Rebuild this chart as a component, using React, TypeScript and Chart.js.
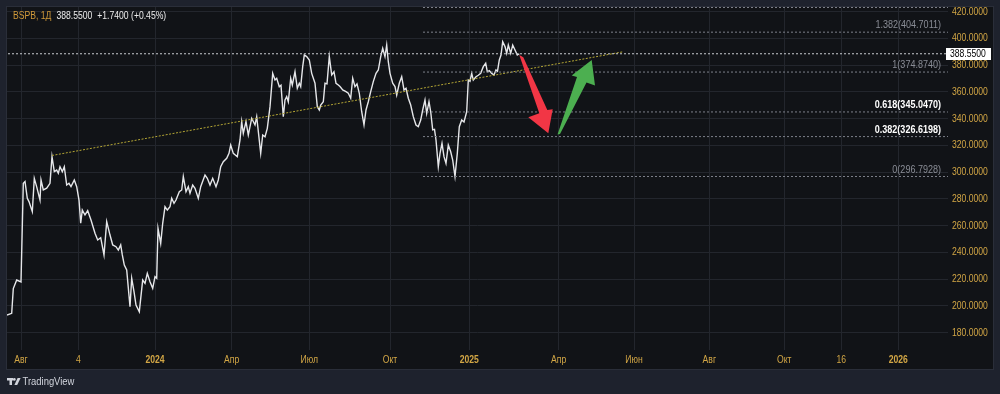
import React, { useEffect, useRef } from "react";
import { Chart, registerables } from "chart.js";

Chart.register(...registerables);

// ---- data (x = bar index, y = price) ----
const barIdx = [
  0, 4.7, 6.3, 9.7, 14, 16.3, 18, 20.3, 22, 25.3, 27.3, 29.7, 33, 34, 36.3, 39.7, 43, 45, 47.3, 49.7,
  51.3, 53, 55.3, 57.3, 59.7, 62, 64, 67.3, 69.7, 72, 73.7, 75.3, 78, 80.7, 84, 88, 90.7, 93.7, 97, 99.7,
  103, 105.7, 109, 111.3, 113.7, 115.3, 117.3, 119.7, 123, 124.7, 127, 129, 132.3, 135.7, 138, 140.3, 143, 145.7, 148, 149.7,
  151, 153.7, 155.7, 158, 160.3, 163, 164.7, 167, 169, 172.3, 174.7, 176.3, 179, 181.3, 183, 185.7, 188, 191.3, 193.7, 198,
  200.3, 203, 205.7, 209, 211.3, 213.7, 216.3, 219.7, 222, 223.7, 226.3, 230.3, 233, 234.7, 236.3, 239, 241.3, 244.7, 248, 249.7,
  253.7, 255.7, 258, 260.3, 263, 265.7, 268, 269.7, 272.3, 274, 276.3, 278, 279.7, 281.3, 283.7, 285.3, 288, 290.3, 292.3, 293.7,
  295.7, 297.3, 299.7, 302.3, 304.7, 308, 310.3, 312.3, 313.7, 316.3, 318, 320, 322.3, 324.7, 327, 329, 331.3, 333, 335.7, 339,
  341.3, 343.7, 345.7, 348, 350, 352.3, 354.7, 357, 359, 361.3, 363.7, 366.3, 369, 371.3, 373.7, 375.7, 378, 379.7, 381.3, 383,
  385.7, 388, 389.7, 392.3, 394.7, 397, 399, 401.3, 403.7, 406.3, 409, 411.3, 413.7, 415.7, 418, 419.7, 422, 423.7, 425.7, 427.5,
  429, 431.3, 433, 435, 437, 439, 441.3, 443.7, 445.7, 448, 450.3, 452.3, 454.7, 457, 459.7, 461.3, 463, 464.7, 466.3, 469,
  471.3, 473.7, 476.3, 478.7, 480.3, 482.3, 484.7, 487, 489, 490.5, 492.3, 494, 495.7, 498, 499.7, 501.3, 503.7, 505.7, 508, 510.3,
  512.3,
];
const close = [
  193.2, 194.5, 213.0, 219.4, 218.0, 291.7, 293.0, 280.5, 278.0, 270.5, 295.4, 289.0, 279.2, 294.2, 286.7, 288.0, 291.7, 311.6, 300.4, 301.6,
  299.2, 304.1, 300.4, 304.1, 290.4, 291.7, 289.2, 294.2, 289.2, 279.2, 261.8, 271.7, 268.0, 271.2, 264.3, 254.3, 249.3, 251.0, 238.1, 263.0,
  253.0, 245.6, 244.3, 241.8, 245.6, 238.1, 230.6, 226.9, 199.4, 220.7, 210.7, 200.7, 195.7, 219.4, 216.9, 224.4, 218.1, 213.2, 221.9, 220.7,
  258.0, 246.8, 261.8, 274.2, 271.7, 274.2, 280.5, 276.7, 279.2, 285.4, 286.7, 296.7, 285.4, 289.2, 284.2, 290.4, 288.0, 280.5, 289.2, 297.9,
  295.4, 290.4, 295.4, 289.2, 294.2, 304.1, 307.9, 310.4, 314.1, 320.3, 314.1, 311.6, 324.1, 337.8, 329.1, 337.8, 327.8, 340.3, 335.3, 341.5,
  314.1, 327.8, 326.5, 332.8, 349.0, 373.9, 368.9, 370.2, 363.9, 365.0, 341.5, 354.0, 356.5, 352.7, 370.2, 365.2, 375.1, 362.7, 366.5, 364.0,
  378.9, 387.6, 386.4, 383.9, 373.9, 366.5, 349.0, 346.5, 350.2, 352.7, 366.5, 366.0, 386.4, 372.7, 375.1, 366.5, 365.2, 364.0, 361.5, 360.2,
  359.0, 355.3, 370.2, 364.0, 366.0, 359.0, 345.2, 335.3, 346.5, 352.7, 360.2, 367.7, 373.9, 376.4, 386.4, 392.6, 386.4, 395.1, 382.6, 373.9,
  366.5, 364.0, 357.7, 366.5, 371.4, 361.5, 362.7, 355.3, 350.2, 341.5, 335.3, 334.0, 339.0, 346.5, 354.0, 344.0, 352.7, 345.2, 331.6, 332.0,
  324.1, 304.1, 314.1, 321.6, 311.6, 306.6, 320.3, 315.3, 309.1, 296.7, 314.1, 334.0, 339.0, 337.5, 345.2, 368.9, 368.0, 373.9, 368.9, 371.4,
  372.5, 373.9, 378.9, 381.4, 375.1, 376.0, 373.9, 372.7, 376.4, 375.5, 383.9, 387.6, 397.6, 393.9, 388.9, 395.1, 388.9, 395.1, 391.4, 387.6,
  388.55,
];

const symbol = "BSPB, 1Д";
const lastPrice = 388.55;
const change = "+1.7400 (+0.45%)";

const trendBars = [45, 616];
const trendPrices = [312.5, 390.0];

const fibStartBar = 416;
const fibPrices = [423.13, 404.7011, 374.874, 345.047, 326.6198, 296.7928];
const fibLabels = ["", "1.382(404.7011)", "1(374.8740)", "0.618(345.0470)", "0.382(326.6198)", "0(296.7928)"];
const fibEmphasis = [false, false, false, true, true, false];

const redArrowBars = [512.3, 516.3, 540.3, 545.7, 541.3, 521.3, 532.3];
const redArrowPrices = [387.6, 385.9, 346.5, 347.0, 329.1, 341.0, 344.0];
const greenArrowBars = [550.5, 570.0, 564.7, 584.7, 588.0, 579.5, 553.0];
const greenArrowPrices = [328.2, 371.2, 372.3, 383.9, 364.8, 367.1, 328.6];

const xTickBars = [14, 71.3, 148, 224.7, 302.3, 383, 462.3, 551.7, 627, 702.3, 777.3, 834.3, 891.3];
const xTickLabels = ["Авг", "4", "2024", "Апр", "Июл", "Окт", "2025", "Апр", "Июн", "Авг", "Окт", "16", "2026"];
const yTicks = [180, 200, 220, 240, 260, 280, 300, 320, 340, 360, 380, 400, 420];

const FONT = '"Liberation Sans", Arial, sans-serif';
const GOLD = "#d2a645";
const SX = 0.82;

function drawText(
  ctx: CanvasRenderingContext2D,
  txt: string,
  x: number,
  y: number,
  align: "left" | "right" | "center",
  font: string,
  color: string
) {
  ctx.save();
  ctx.font = font;
  ctx.fillStyle = color;
  ctx.textBaseline = "middle";
  ctx.textAlign = "left";
  const w = ctx.measureText(txt).width * SX;
  const left = align === "left" ? x : align === "right" ? x - w : x - w / 2;
  ctx.translate(left, y);
  ctx.scale(SX, 1);
  ctx.fillText(txt, 0, 0);
  ctx.restore();
  return w;
}

export default function App() {
  const ref = useRef<HTMLCanvasElement | null>(null);

  useEffect(() => {
    if (!ref.current) return;

    const bgPlugin = {
      id: "bg",
      beforeDraw(chart: any) {
        const { ctx, width, height } = chart;
        ctx.save();
        ctx.fillStyle = "#1e222d";
        ctx.fillRect(0, 0, width, height);
        ctx.fillStyle = "#111317";
        ctx.fillRect(7, 7, 986, 362);
        ctx.strokeStyle = "#2a2e39";
        ctx.lineWidth = 1;
        ctx.strokeRect(6.5, 6.5, 987, 363);
        ctx.restore();
      },
    };

    const overlayPlugin = {
      id: "overlay",
      afterDatasetsDraw(chart: any) {
        const { ctx } = chart;
        const xs = chart.scales.x;
        const ys = chart.scales.y;
        const poly = (bars: number[], prices: number[], color: string) => {
          ctx.beginPath();
          bars.forEach((b, i) => {
            const px = xs.getPixelForValue(b);
            const py = ys.getPixelForValue(prices[i]);
            if (i === 0) ctx.moveTo(px, py);
            else ctx.lineTo(px, py);
          });
          ctx.closePath();
          ctx.fillStyle = color;
          ctx.fill();
        };
        ctx.save();
        poly(redArrowBars, redArrowPrices, "#f23645");
        poly(greenArrowBars, greenArrowPrices, "#4caf50");
        ctx.restore();

        // fib labels
        fibPrices.forEach((p, i) => {
          if (!fibLabels[i]) return;
          const py = ys.getPixelForValue(p);
          drawText(
            ctx,
            fibLabels[i],
            941,
            py - 7,
            "right",
            (fibEmphasis[i] ? "bold " : "") + "11px " + FONT,
            fibEmphasis[i] ? "#ffffff" : "#8a8d96"
          );
        });
      },
      afterDraw(chart: any) {
        const { ctx } = chart;
        const xs = chart.scales.x;
        const ys = chart.scales.y;
        const area = chart.chartArea;

        // y axis labels
        yTicks.forEach((v) => {
          drawText(ctx, v.toFixed(4), area.right + 4, ys.getPixelForValue(v), "left", "10.5px " + FONT, GOLD);
        });
        // x axis labels
        xTickBars.forEach((b, i) => {
          const lbl = xTickLabels[i];
          const bold = /^\d{4}$/.test(lbl);
          drawText(ctx, lbl, xs.getPixelForValue(b), area.bottom + 10, "center", (bold ? "bold " : "") + "10.5px " + FONT, GOLD);
        });

        // last price label
        const py = Math.round(ys.getPixelForValue(lastPrice));
        ctx.save();
        ctx.fillStyle = "#ffffff";
        ctx.fillRect(946, py - 6, 45, 12);
        ctx.restore();
        drawText(ctx, lastPrice.toFixed(4), 950, py + 0.5, "left", "10.5px " + FONT, "#000000");

        // header
        let x = 13;
        x += drawText(ctx, symbol, x, 16.5, "left", "10.5px " + FONT, "#d19a3a") + 5;
        const priceTxt = lastPrice.toFixed(4);
        x += drawText(ctx, priceTxt, x, 16.5, "left", "10.5px " + FONT, "#ececec") + 5;
        drawText(ctx, change, x, 16.5, "left", "10.5px " + FONT, "#ececec");

        // TradingView logo
        ctx.save();
        ctx.fillStyle = "#d1d4dc";
        ctx.fillRect(7, 378, 6, 2.5);
        ctx.fillRect(9.5, 378, 2.5, 7);
        ctx.beginPath();
        ctx.arc(14.3, 379.4, 1.4, 0, Math.PI * 2);
        ctx.fill();
        ctx.beginPath();
        ctx.moveTo(17.6, 378);
        ctx.lineTo(20.6, 378);
        ctx.lineTo(17.2, 385);
        ctx.lineTo(14.4, 385);
        ctx.closePath();
        ctx.fill();
        ctx.restore();
        drawText(ctx, "TradingView", 22.5, 381.5, "left", "11.5px " + FONT, "#d1d4dc");
      },
    };

    const fibDatasets = fibPrices.map((p) => ({
      type: "line" as const,
      data: [
        { x: fibStartBar, y: p },
        { x: 941, y: p },
      ],
      borderColor: "#7d808a",
      borderWidth: 1,
      borderDash: [2, 2],
      pointRadius: 0,
      fill: false,
    }));

    const chart = new Chart(ref.current, {
      type: "line",
      data: {
        datasets: [
          ...fibDatasets,
          {
            data: [
              { x: 1, y: lastPrice },
              { x: 941, y: lastPrice },
            ],
            borderColor: "#c9cbd0",
            borderWidth: 1,
            borderDash: [2, 2],
            pointRadius: 0,
          },
          {
            data: trendBars.map((b, i) => ({ x: b, y: trendPrices[i] })),
            borderColor: "#b3a534",
            borderWidth: 1,
            borderDash: [2, 1.5],
            pointRadius: 0,
          },
          {
            data: barIdx.map((b, i) => ({ x: b, y: close[i] })),
            borderColor: "#e6e7ea",
            borderWidth: 1.4,
            pointRadius: 0,
            tension: 0,
          },
        ],
      },
      options: {
        animation: false,
        responsive: false,
        events: [],
        layout: { padding: { left: 7, top: 7, right: 7, bottom: 25 } },
        plugins: { legend: { display: false }, tooltip: { enabled: false } },
        scales: {
          x: {
            type: "linear",
            min: 0,
            max: 941,
            afterBuildTicks: (s: any) => {
              s.ticks = xTickBars.map((v) => ({ value: v }));
            },
            afterFit: (s: any) => {
              s.height = 19;
            },
            grid: { color: "#23262d", drawTicks: false, lineWidth: 1 },
            border: { display: false },
            ticks: { display: false },
          },
          y: {
            type: "linear",
            position: "right",
            min: 167.06,
            max: 423.51,
            afterBuildTicks: (s: any) => {
              s.ticks = yTicks.map((v) => ({ value: v }));
            },
            afterFit: (s: any) => {
              s.width = 45;
            },
            grid: { color: "#23262d", drawTicks: false, lineWidth: 1 },
            border: { display: false },
            ticks: { display: false },
          },
        },
      },
      plugins: [bgPlugin, overlayPlugin],
    } as any);

    return () => chart.destroy();
  }, []);

  return (
    <div style={{ position: "fixed", left: 0, top: 0, width: 1000, height: 394, background: "#1e222d" }}>
      <canvas ref={ref} width={1000} height={394} style={{ display: "block", width: 1000, height: 394 }} />
    </div>
  );
}
